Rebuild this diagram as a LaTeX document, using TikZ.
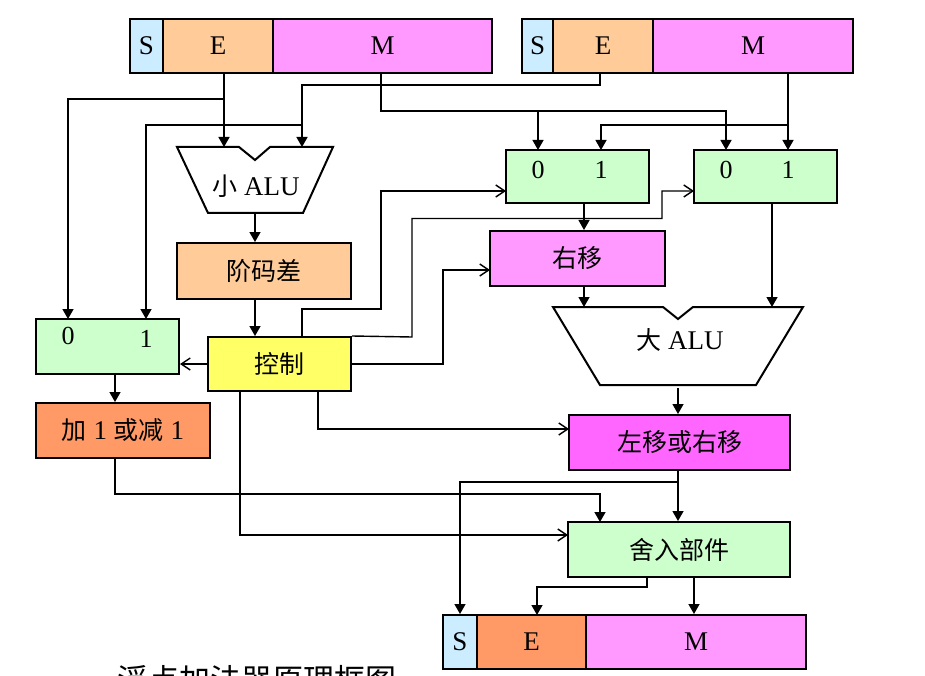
\documentclass[tikz,border=0pt]{standalone}
\usepackage{fontspec}
\setmainfont{Liberation Serif}
\newfontfamily\cjk{Noto Sans CJK SC}
\newcommand\myzh[1]{{\cjk\fontsize{25}{28}\selectfont #1}}
\usetikzlibrary{arrows.meta}
\definecolor{cS}{HTML}{CCECFF}
\definecolor{cE}{HTML}{FFCC99}
\definecolor{cM}{HTML}{FF99FF}
\definecolor{cG}{HTML}{CCFFCC}
\definecolor{cY}{HTML}{FFFF66}
\definecolor{cO}{HTML}{FF9966}
\definecolor{cMM}{HTML}{FF66FF}
\begin{document}
\begin{tikzpicture}[x=1pt,y=-1pt,
  box/.style={draw, line width=2pt, inner sep=0pt, font=\fontsize{27}{30}\selectfont},
  wire/.style={line width=1.4pt},
  dat/.style={line width=1.4pt, -{Triangle[width=11pt,length=10pt]}},
  ctl/.style={line width=1.4pt, -{Straight Barb[width=12pt,length=9pt]}},
  lbl/.style={font=\fontsize{26}{28}\selectfont, inner sep=0pt},
  alu/.style={draw, line width=2pt, fill=white, line join=miter}]
\useasboundingbox (0,0) rectangle (925,676);
\clip (0,0) rectangle (925,676);

% top-left register
\node[box, fill=cS, minimum width=33pt, minimum height=54pt] (S1) at (146.5,46) {S};
\node[box, fill=cE, minimum width=110pt, minimum height=54pt] (E1) at (218,46) {E};
\node[box, fill=cM, minimum width=219pt, minimum height=54pt] (M1) at (382.5,46) {M};
% top-right register
\node[box, fill=cS, minimum width=31pt, minimum height=54pt] (S2) at (537.5,46) {S};
\node[box, fill=cE, minimum width=100pt, minimum height=54pt] (E2) at (603,46) {E};
\node[box, fill=cM, minimum width=200pt, minimum height=54pt] (M2) at (753,46) {M};
% bottom register
\node[box, fill=cS, minimum width=34pt, minimum height=54pt] (S3) at (460,642) {S};
\node[box, fill=cO, minimum width=109pt, minimum height=54pt] (E3) at (531.5,642) {E};
\node[box, fill=cM, minimum width=220pt, minimum height=54pt] (M3) at (696,642) {M};

% small ALU
\draw[alu] (177,147) -- (239,147) -- (255,160) -- (270,147) -- (333,147) -- (303,213) -- (208,213) -- cycle;
\node[box, draw=none] (aluS) at (256,186) {\myzh{小} ALU};
% big ALU
\draw[alu] (553,307) -- (663,307) -- (678,319) -- (693,307) -- (803,307) -- (756,385) -- (600,385) -- cycle;
\node[box, draw=none] (aluB) at (680,340) {\myzh{大} ALU};

% boxes
\node[box, fill=cE, minimum width=174pt, minimum height=56pt] (jmc) at (264,271) {\myzh{阶码差}};
\node[box, fill=cY, minimum width=143pt, minimum height=54pt] (ctrl) at (279.5,364) {\myzh{控制}};
\node[box, fill=cG, minimum width=143pt, minimum height=55pt] (muxL) at (107.5,346.5) {};
\node[lbl] (muxL0) at (68,336) {0};
\node[lbl] (muxL1) at (146,339) {1};
\node[box, fill=cO, minimum width=174pt, minimum height=55pt] (inc) at (123,430.5) {\myzh{加} 1 \myzh{或减} 1};
\node[box, fill=cG, minimum width=143pt, minimum height=53pt] (muxA) at (577.5,176.5) {};
\node[lbl] (muxA0) at (538,170) {0};
\node[lbl] (muxA1) at (601,170) {1};
\node[box, fill=cG, minimum width=143pt, minimum height=53pt] (muxB) at (765.5,176.5) {};
\node[lbl] (muxB0) at (726,170) {0};
\node[lbl] (muxB1) at (788,170) {1};
\node[box, fill=cM, minimum width=175pt, minimum height=55pt] (rs) at (577.5,258.5) {\myzh{右移}};
\node[box, fill=cMM, minimum width=221pt, minimum height=55pt] (lrs) at (679.5,442.5) {\myzh{左移或右移}};
\node[box, fill=cG, minimum width=222pt, minimum height=55pt] (rnd) at (679,549.5) {\myzh{舍入部件}};

% ports
\coordinate (E1o) at (224,73);
\coordinate (M1o) at (381,73);
\coordinate (E2o) at (600,73);
\coordinate (M2o) at (788,73);
\coordinate (aluSi1) at (224,147);
\coordinate (aluSi2) at (302,147);
\coordinate (aluSo) at (255,213);
\coordinate (muxLi0) at (68,319);
\coordinate (muxLi1) at (146,319);
\coordinate (muxLo) at (115,374);
\coordinate (muxAi0) at (538,150);
\coordinate (muxAi1) at (601,150);
\coordinate (muxBi0) at (726,150);
\coordinate (muxBi1) at (788,150);
\coordinate (muxAo) at (584,203);
\coordinate (muxBo) at (772,203);
\coordinate (aluBi1) at (584,307);
\coordinate (aluBi2) at (772,307);
\coordinate (aluBo) at (678,388);
\coordinate (c1) at (240,391);
\coordinate (c2) at (318,391);
\coordinate (c3) at (302,337);
\coordinate (muxAiC) at (506,191);
\coordinate (muxBiC) at (694,191);
\coordinate (rsiC) at (490,270);
\coordinate (lrsiC) at (569,429);
\coordinate (rndiC) at (568,535);
\coordinate (rndi1) at (600,522);
\coordinate (rndo1) at (647,577);
\coordinate (rndo2) at (694,577);
\coordinate (E3i) at (537,615);

% data connectors
\draw[dat] (E1o) -- (aluSi1);
\draw[dat] (224,99) -| (muxLi0);
\draw[dat] (M1o) |- (726,111) -- (muxBi0);
\draw[dat] (538,111) -- (muxAi0);
\draw[dat] (E2o) |- (302,85) -- (aluSi2);
\draw[dat] (302,125) -| (muxLi1);
\draw[dat] (M2o) -- (muxBi1);
\draw[dat] (788,125) -| (muxAi1);
\draw[dat] (aluSo) -- (aluSo |- jmc.north);
\draw[dat] (aluSo |- jmc.south) -- (aluSo |- ctrl.north);
\draw[dat] (muxLo) -- (muxLo |- inc.north);
\draw[dat] (muxLo |- inc.south) |- (600,494) -- (rndi1);
\draw[dat] (muxAo) -- (muxAo |- rs.north);
\draw[dat] (muxAo |- rs.south) -- (aluBi1);
\draw[dat] (muxBo) -- (aluBi2);
\draw[dat] (aluBo) -- (aluBo |- lrs.north);
\draw[dat] (aluBo |- lrs.south) -- (aluBo |- rnd.north);
\draw[dat] (678,482) -| (S3.north);
\draw[dat] (rndo1) |- (537,587) -- (E3i);
\draw[dat] (rndo2) -- (rndo2 |- M3.north);

% control connectors
\draw[ctl] (ctrl.west) -- (ctrl.west -| muxL.east);
\draw[ctl] (c1) |- (rndiC);
\draw[ctl] (c2) |- (lrsiC);
\draw[ctl] (c3) |- (381,309) |- (muxAiC);
\draw[ctl] (ctrl.north east) -- (412,337) |- (662,218.5) |- (muxBiC);
\draw[ctl] (ctrl.east) -| (443,270) -- (rsiC);

% caption (cut off by the lower edge, as in the reference)
\node[anchor=base west, inner sep=0pt, font=\cjk\fontsize{31}{34}\selectfont] (cap) at (117,691) {浮点加法器原理框图};
\end{tikzpicture}
\end{document}
